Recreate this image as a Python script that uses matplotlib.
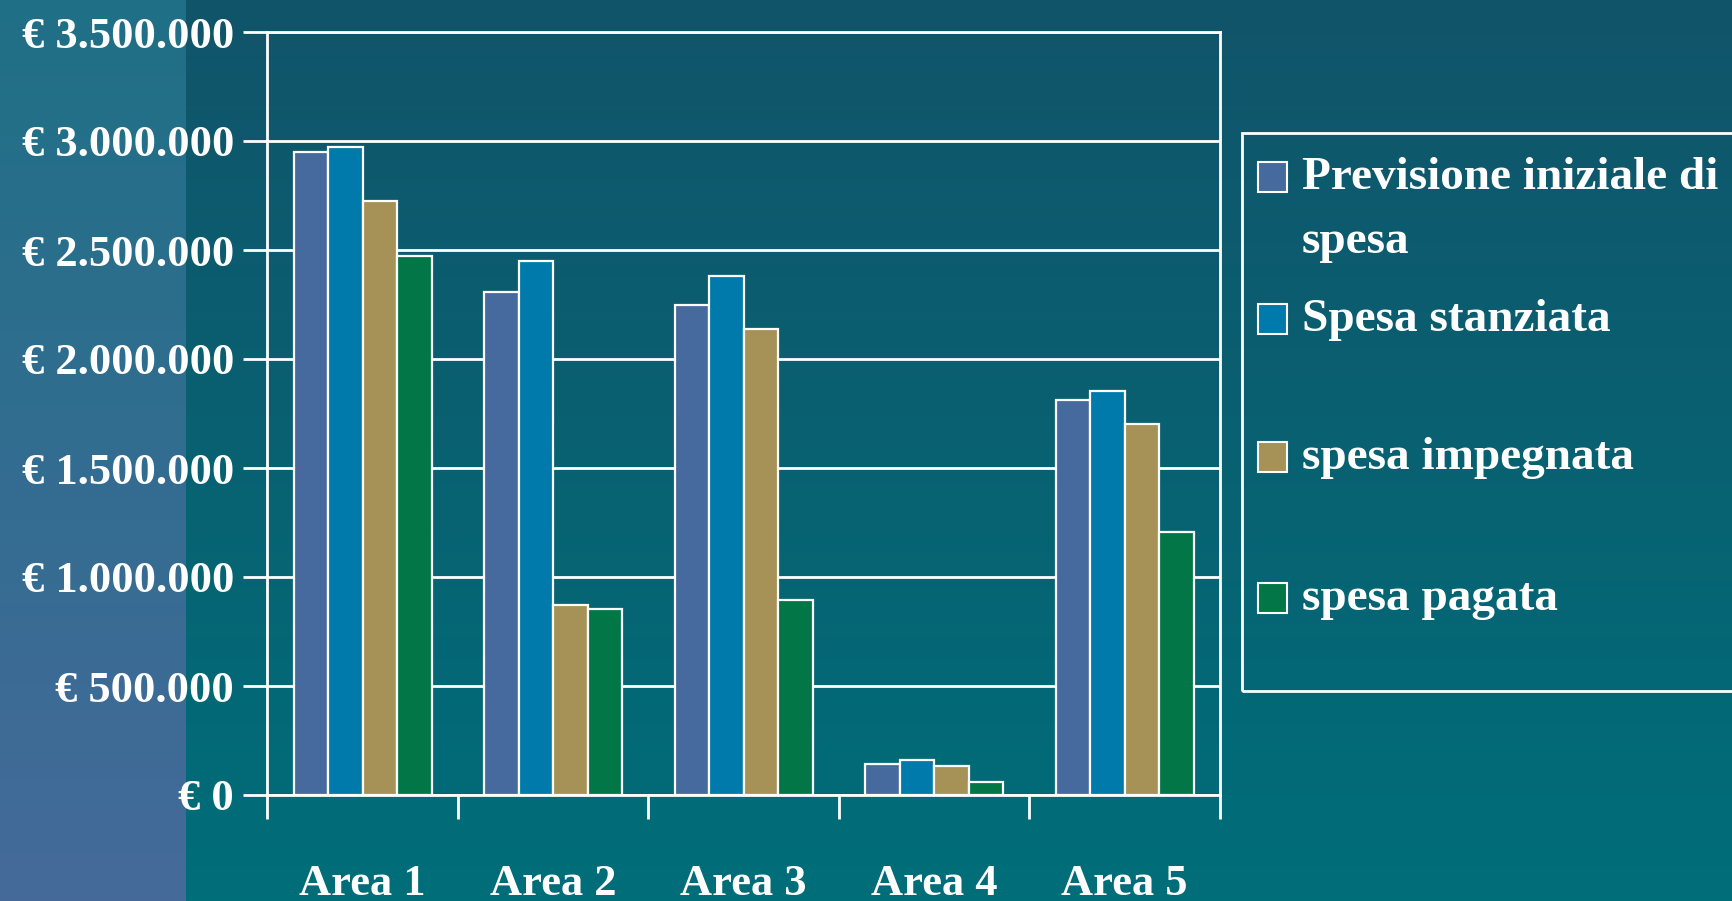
import numpy as np
import matplotlib
matplotlib.use("Agg")
import matplotlib.pyplot as plt
from matplotlib.patches import Rectangle
from matplotlib.colors import to_rgb
from matplotlib.ticker import FuncFormatter

# --- data ---
areas = ["Area 1", "Area 2", "Area 3", "Area 4", "Area 5"]
series = ["Previsione iniziale di\nspesa", "Spesa stanziata", "spesa impegnata", "spesa pagata"]
previsione = [2948000, 2308000, 2248000, 142000, 1811000]
stanziata = [2973000, 2450000, 2379000, 162000, 1852000]
impegnata = [2724000, 873000, 2136000, 132000, 1700000]
pagata = [2471000, 852000, 893000, 61000, 1207000]
colors = ["#466a9e", "#007aaa", "#a69157", "#027646"]

W, H = 1733, 901
fig = plt.figure(figsize=(W / 100, H / 100), dpi=100)

# background gradients (left strip lighter, main area dark teal)
bg = fig.add_axes([0, 0, 1, 1], zorder=-10)
bg.axis("off")


def vgrad(top, bottom, n=256):
    t = np.linspace(0, 1, n)[:, None, None]
    return (1 - t) * np.array(to_rgb(top)) + t * np.array(to_rgb(bottom))


bg.imshow(vgrad("#11546a", "#006e79"), extent=(0, W, H, 0), aspect="auto")
bg.imshow(vgrad("#1f7086", "#456a9a"), extent=(0, 186, H, 0), aspect="auto")
bg.set_xlim(0, W)
bg.set_ylim(H, 0)

# main axes
left, right, top, bottom = 267.5, 1220, 32, 795
ax = fig.add_axes([left / W, 1 - bottom / H, (right - left) / W, (bottom - top) / H])
ax.patch.set_alpha(0)

x = np.arange(len(areas))
bw = 0.181
for i, (vals, c) in enumerate(zip([previsione, stanziata, impegnata, pagata], colors)):
    ax.bar(x + (i - 1.5) * bw, vals, width=bw, color=c, edgecolor="white",
           linewidth=1.6, zorder=3)

ax.set_xlim(-0.5, len(areas) - 0.5)
ax.set_ylim(0, 3500000)
ax.set_yticks(np.arange(0, 3500001, 500000))
ax.yaxis.set_major_formatter(FuncFormatter(lambda v, p: "€ " + f"{int(v):,}".replace(",", ".")))
ax.grid(axis="y", color="white", linewidth=2, zorder=0)
ax.set_axisbelow(True)

# category boundaries as ticks, labels at centers
ax.set_xticks(np.arange(-0.5, len(areas)), minor=False)
ax.set_xticklabels([])
ax.set_xticks(x, minor=True)
ax.set_xticklabels(areas, minor=True)
ax.tick_params(axis="x", which="major", direction="out", length=17, width=2, color="white")
ax.tick_params(axis="x", which="minor", length=0, pad=50)
ax.tick_params(axis="y", direction="out", length=17, width=2, color="white", pad=7)

for s in ax.spines.values():
    s.set_color("white")
    s.set_linewidth(2)

for lab in ax.get_yticklabels() + ax.get_xticklabels(minor=True):
    lab.set_fontfamily("Liberation Serif")
    lab.set_fontweight("bold")
    lab.set_fontsize(32)
    lab.set_color("white")

# legend box drawn by hand to match the layout
def fx(px):
    return px / W


def fy(py):
    return 1 - py / H


fig.add_artist(Rectangle((fx(1242), fy(691)), fx(W + 10) - fx(1242), fy(133) - fy(691),
                         transform=fig.transFigure, fill=False, edgecolor="white", linewidth=2))
entry_y = [177, 319, 457, 598]
for lab, c, yy in zip(series, colors, entry_y):
    fig.add_artist(Rectangle((fx(1258), fy(yy + 15)), fx(29), fy(0) - fy(30),
                             transform=fig.transFigure, facecolor=c, edgecolor="white",
                             linewidth=1.5))
    fig.text(fx(1302), fy(yy + 12), lab.split("\n")[0], transform=fig.transFigure,
             color="white", fontsize=34, fontfamily="Liberation Serif",
             fontweight="bold", va="baseline", ha="left")
    if "\n" in lab:
        fig.text(fx(1302), fy(yy + 76), lab.split("\n")[1], transform=fig.transFigure,
                 color="white", fontsize=34, fontfamily="Liberation Serif",
                 fontweight="bold", va="baseline", ha="left")

fig.savefig("out.png", dpi=100)
